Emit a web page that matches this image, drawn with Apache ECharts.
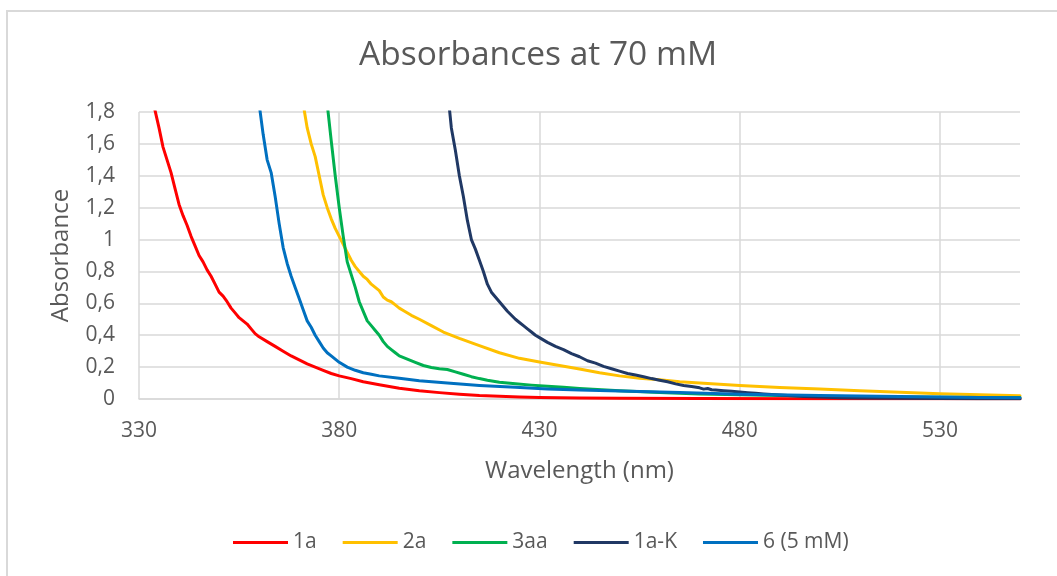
<!DOCTYPE html>
<html>
<head>
<meta charset="utf-8">
<title>Absorbances at 70 mM</title>
<script src="https://cdn.jsdelivr.net/npm/echarts@6/dist/echarts.min.js"></script>
<style>
  html, body { margin: 0; padding: 0; background: #fff; }
  #chart { width: 1057px; height: 576px; }
</style>
</head>
<body>
<div id="chart"></div>
<script>
// Absorbance spectra (wavelength in nm, absorbance in a.u.)
const seriesNames = ['1a', '2a', '3aa', '1a-K', '6 (5 mM)'];
const seriesColors = ['#FF0000', '#FFC000', '#00B050', '#203864', '#0070C0'];

const wl1a = [332, 333, 334, 335, 336, 337, 338, 339, 340, 341, 342, 343, 344, 345, 346, 347, 348, 349, 350, 351, 352, 353, 354, 355, 356, 357, 358, 359, 360, 362, 364, 366, 368, 370, 372, 374, 376, 378, 380, 383, 386, 390, 395, 400, 405, 410, 415, 420, 425, 430, 440, 450, 470, 500, 530, 550];
const abs1a = [2.0, 1.9, 1.81, 1.7, 1.58, 1.5, 1.42, 1.32, 1.22, 1.15, 1.09, 1.02, 0.96, 0.9, 0.86, 0.81, 0.77, 0.72, 0.67, 0.645, 0.61, 0.57, 0.54, 0.51, 0.49, 0.47, 0.44, 0.41, 0.39, 0.36, 0.33, 0.3, 0.27, 0.245, 0.22, 0.2, 0.18, 0.16, 0.145, 0.128, 0.108, 0.09, 0.068, 0.052, 0.04, 0.03, 0.022, 0.017, 0.013, 0.01, 0.007, 0.005, 0.003, 0.002, 0.001, 0.001];

const wl2a = [370, 371, 372, 373, 374, 375, 376, 377, 378, 379, 380, 381, 382, 383, 384, 385, 386, 387, 388, 389, 390, 391, 392, 393, 394, 395, 396, 398, 400, 403, 406, 410, 415, 420, 425, 430, 435, 440, 445, 450, 455, 460, 465, 470, 480, 490, 500, 510, 520, 530, 540, 550];
const abs2a = [1.95, 1.85, 1.7, 1.6, 1.52, 1.4, 1.28, 1.2, 1.13, 1.07, 1.02, 0.97, 0.92, 0.87, 0.83, 0.8, 0.77, 0.75, 0.72, 0.7, 0.68, 0.64, 0.62, 0.61, 0.59, 0.57, 0.555, 0.525, 0.5, 0.46, 0.42, 0.38, 0.335, 0.29, 0.255, 0.232, 0.21, 0.188, 0.165, 0.145, 0.13, 0.12, 0.108, 0.1, 0.085, 0.072, 0.062, 0.052, 0.042, 0.033, 0.026, 0.02];

const wl3aa = [376.5, 377, 378, 379, 380, 381, 382, 383, 384, 385, 386, 387, 388, 389, 390, 391, 392, 393, 394, 395, 397, 399, 401, 403, 405, 407, 409, 411, 413, 415, 417, 420, 424, 428, 432, 436, 440, 450, 460, 470, 480, 500, 520, 540, 550];
const abs3aa = [2.0, 1.85, 1.62, 1.4, 1.2, 1.02, 0.86, 0.78, 0.7, 0.61, 0.55, 0.49, 0.46, 0.43, 0.4, 0.36, 0.33, 0.31, 0.29, 0.27, 0.25, 0.23, 0.21, 0.198, 0.19, 0.185, 0.17, 0.155, 0.14, 0.128, 0.118, 0.105, 0.095, 0.087, 0.08, 0.073, 0.066, 0.052, 0.04, 0.032, 0.026, 0.018, 0.013, 0.01, 0.009];

const wl1aK = [407, 408, 409, 410, 411, 412, 413, 414, 415, 416, 417, 418, 419, 420, 421, 422, 423, 424, 425, 426, 427, 428, 429, 430, 432, 434, 436, 438, 440, 442, 444, 446, 448, 450, 452, 454, 456, 458, 460, 462, 464, 466, 468, 470, 471, 472, 473, 474, 476, 478, 480, 482, 484, 486, 488, 490, 492, 496, 500, 505, 510, 520, 530, 540, 550];
const abs1aK = [1.95, 1.7, 1.56, 1.4, 1.27, 1.12, 1.0, 0.94, 0.87, 0.8, 0.72, 0.67, 0.64, 0.61, 0.58, 0.55, 0.525, 0.5, 0.48, 0.46, 0.44, 0.42, 0.4, 0.385, 0.355, 0.33, 0.31, 0.285, 0.265, 0.24, 0.225, 0.205, 0.19, 0.175, 0.16, 0.15, 0.14, 0.128, 0.118, 0.108, 0.095, 0.085, 0.078, 0.07, 0.062, 0.066, 0.058, 0.056, 0.052, 0.048, 0.044, 0.04, 0.036, 0.032, 0.028, 0.025, 0.022, 0.016, 0.012, 0.008, 0.006, 0.004, 0.003, 0.002, 0.002];

const wl6 = [358, 359, 360, 361, 362, 363, 364, 365, 366, 367, 368, 369, 370, 371, 372, 373, 374, 375, 376, 377, 378, 379, 380, 382, 384, 386, 388, 390, 395, 400, 407, 415, 424, 432, 440, 450, 465, 480, 500, 520, 540, 550];
const abs6 = [2.05, 1.95, 1.85, 1.66, 1.5, 1.42, 1.27, 1.1, 0.95, 0.85, 0.77, 0.7, 0.63, 0.56, 0.49, 0.45, 0.4, 0.36, 0.32, 0.29, 0.27, 0.25, 0.23, 0.2, 0.18, 0.165, 0.155, 0.145, 0.13, 0.115, 0.1, 0.085, 0.073, 0.063, 0.056, 0.05, 0.04, 0.03, 0.022, 0.015, 0.01, 0.008];

// Axis ticks
const xMin = 330, xMax = 550, xStep = 50;
const yMin = 0, yMax = 1.8, yStep = 0.2;

const seriesData = [
  [wl1a, abs1a],
  [wl2a, abs2a],
  [wl3aa, abs3aa],
  [wl1aK, abs1aK],
  [wl6, abs6]
];

const FONT = '"Open Sans", "Noto Sans", sans-serif';
const TEXT = '#595959';
const GRID = '#D9D9D9';

const chart = echarts.init(document.getElementById('chart'), null, { renderer: 'canvas' });

chart.setOption({
  backgroundColor: '#fff',
  animation: false,
  textStyle: { fontFamily: FONT },
  graphic: [{
    type: 'rect',
    shape: { x: 7, y: 11, width: 1100, height: 620 },
    style: { fill: 'none', stroke: GRID, lineWidth: 2 },
    silent: true,
    z: -1
  }],
  title: {
    text: 'Absorbances at 70 mM',
    left: 359,
    top: 38,
    padding: 0,
    textStyle: { fontFamily: FONT, fontSize: 33.5, fontWeight: 'normal', color: TEXT }
  },
  legend: {
    data: seriesNames,
    left: 233,
    top: 532,
    padding: 0,
    itemWidth: 55,
    itemHeight: 12,
    itemGap: 26,
    icon: 'path://M0,5 L55,5 L55,8 L0,8 Z',
    textStyle: { fontFamily: FONT, fontSize: 21, color: TEXT }
  },
  grid: { left: 139, right: 37, top: 112, bottom: 177, containLabel: false },
  xAxis: {
    type: 'value',
    min: xMin,
    max: xMax,
    interval: xStep,
    name: 'Wavelength (nm)',
    nameLocation: 'middle',
    nameGap: 60,
    nameTextStyle: { fontFamily: FONT, fontSize: 24, color: TEXT },
    axisLine: { show: true, lineStyle: { color: GRID, width: 1.5 } },
    axisTick: { show: false },
    axisLabel: { margin: 22, fontSize: 21, color: TEXT, fontFamily: FONT, showMaxLabel: false },
    splitLine: { show: true, showMaxLine: false, lineStyle: { color: GRID, width: 1.5 } }
  },
  yAxis: {
    type: 'value',
    min: yMin,
    max: yMax,
    interval: yStep,
    name: 'Absorbance',
    nameLocation: 'middle',
    nameRotate: 90,
    nameGap: 66,
    nameTextStyle: { fontFamily: FONT, fontSize: 24, color: TEXT },
    axisLine: { show: false },
    axisTick: { show: false },
    axisLabel: {
      margin: 24,
      fontSize: 21,
      color: TEXT,
      fontFamily: FONT,
      formatter: v => String(Math.round(v * 10) / 10).replace('.', ',')
    },
    splitLine: { show: true, lineStyle: { color: GRID, width: 1.5 } }
  },
  series: seriesNames.map((name, i) => ({
    name,
    type: 'line',
    data: seriesData[i][0].map((w, k) => [w, seriesData[i][1][k]]),
    symbol: 'none',
    smooth: false,
    clip: true,
    color: seriesColors[i],
    lineStyle: { width: 3, color: seriesColors[i], cap: 'round', join: 'round' },
    z: 2 + i
  }))
});
</script>
</body>
</html>
